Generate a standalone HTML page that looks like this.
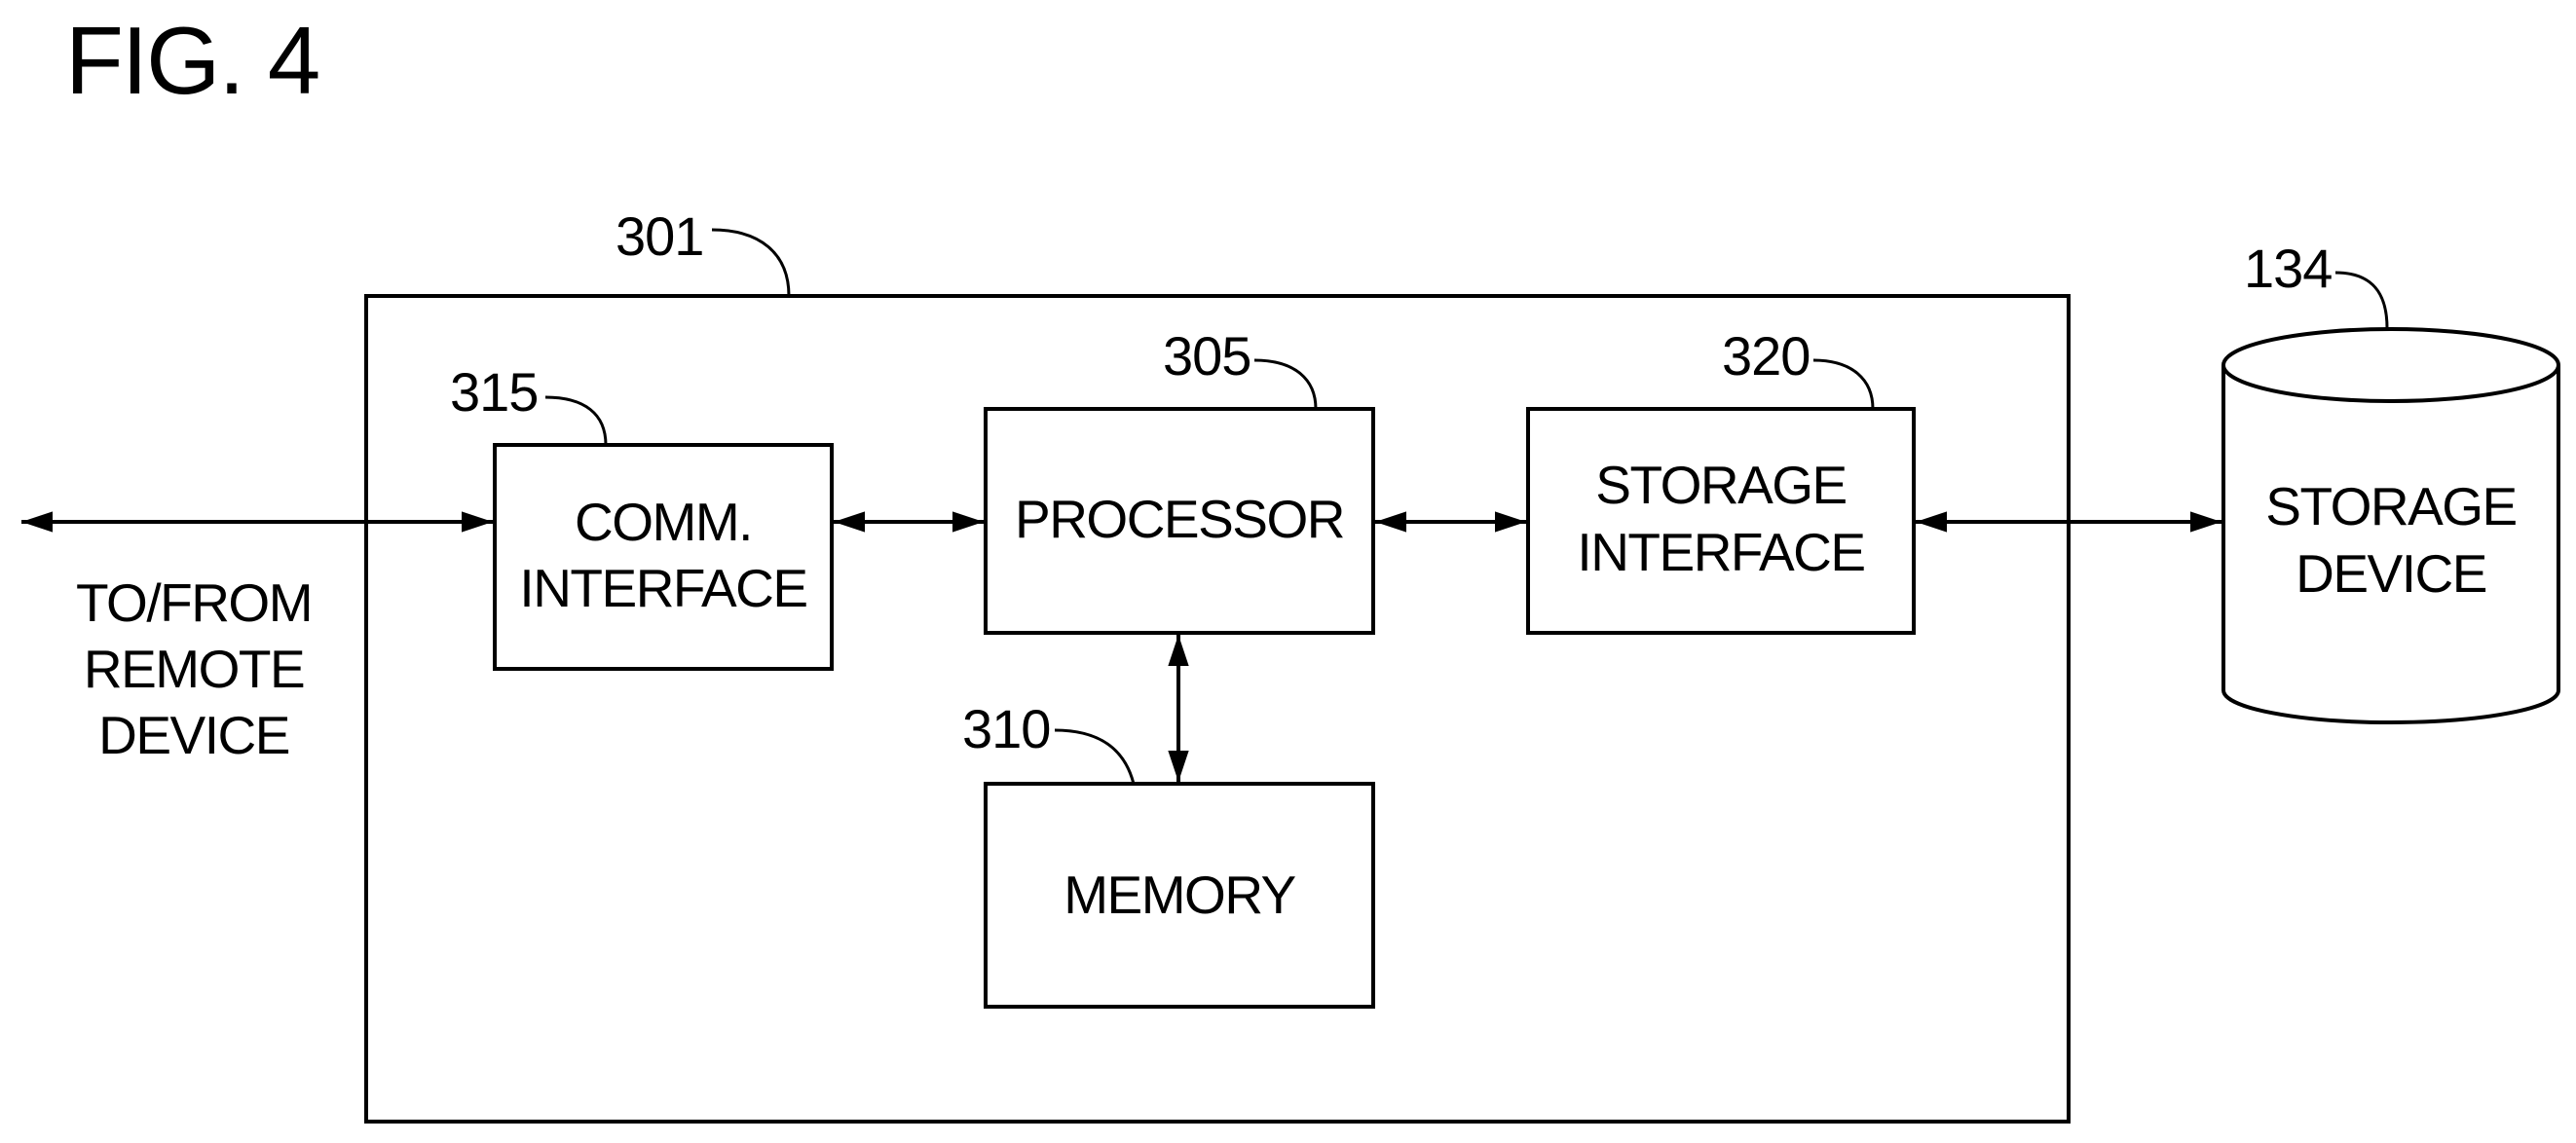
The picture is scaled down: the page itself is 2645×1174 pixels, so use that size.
<!DOCTYPE html>
<html><head><meta charset="utf-8"><style>
html,body{margin:0;padding:0;background:#fff}
svg{display:block}
text{font-family:"Liberation Sans",sans-serif;fill:#000}
.b{font-size:55px;letter-spacing:-1.5px;text-anchor:middle;dominant-baseline:central}
.n{font-size:56px;letter-spacing:-1px}
</style></head><body>
<svg width="2645" height="1174" viewBox="0 0 2645 1174" xmlns="http://www.w3.org/2000/svg">
<defs>
<marker id="h" viewBox="0 0 30 20" refX="30" refY="10" markerWidth="32" markerHeight="22" markerUnits="userSpaceOnUse" orient="auto-start-reverse">
<path d="M0,0 L30,10 L0,20 z" fill="#000"/></marker>
</defs>
<text x="67" y="96" style="font-size:98px;letter-spacing:-2px">FIG. 4</text>
<g fill="none" stroke="#000" stroke-width="4">
<rect x="376" y="304" width="1748" height="848"/>
<rect x="508" y="457" width="346" height="230"/>
<rect x="1012" y="420" width="398" height="230"/>
<rect x="1569" y="420" width="396" height="230"/>
<rect x="1012" y="805" width="398" height="229"/>
<path d="M2283,375 A172,37 0 0 1 2627,375 L2627,709 A172,33 0 0 1 2283,709 Z"/>
<path d="M2283,375 A172,37 0 0 0 2627,375"/>
</g>
<g fill="none" stroke="#000" stroke-width="4">
<line x1="22" y1="536" x2="506" y2="536" marker-start="url(#h)" marker-end="url(#h)"/>
<line x1="856" y1="536" x2="1010" y2="536" marker-start="url(#h)" marker-end="url(#h)"/>
<line x1="1412" y1="536" x2="1567" y2="536" marker-start="url(#h)" marker-end="url(#h)"/>
<line x1="1967" y1="536" x2="2281" y2="536" marker-start="url(#h)" marker-end="url(#h)"/>
<line x1="1210" y1="652" x2="1210" y2="803" marker-start="url(#h)" marker-end="url(#h)"/>
</g>
<g fill="none" stroke="#000" stroke-width="3">
<path d="M731,236 C780,236 810,260 810,304"/>
<path d="M560,408 C600,408 622,425 622,457"/>
<path d="M1288,370 C1330,370 1351,390 1351,420"/>
<path d="M1862,370 C1902,370 1923,390 1923,420"/>
<path d="M1083,750 C1130,750 1155,770 1164,805"/>
<path d="M2398,280 C2435,280 2451,300 2451,337"/>
</g>
<text class="n" x="632" y="262">301</text>
<text class="n" x="462" y="422">315</text>
<text class="n" x="1194" y="385">305</text>
<text class="n" x="1768" y="385">320</text>
<text class="n" x="988" y="768">310</text>
<text class="n" x="2304" y="295">134</text>
<text class="b" x="681" y="536">COMM.</text>
<text class="b" x="681" y="604">INTERFACE</text>
<text class="b" x="1211" y="533">PROCESSOR</text>
<text class="b" x="1767" y="498">STORAGE</text>
<text class="b" x="1767" y="567">INTERFACE</text>
<text class="b" x="1211" y="919">MEMORY</text>
<text class="b" x="2455" y="520">STORAGE</text>
<text class="b" x="2455" y="589">DEVICE</text>
<text class="b" x="199" y="619">TO/FROM</text>
<text class="b" x="199" y="687">REMOTE</text>
<text class="b" x="199" y="755">DEVICE</text>
</svg>
</body></html>
